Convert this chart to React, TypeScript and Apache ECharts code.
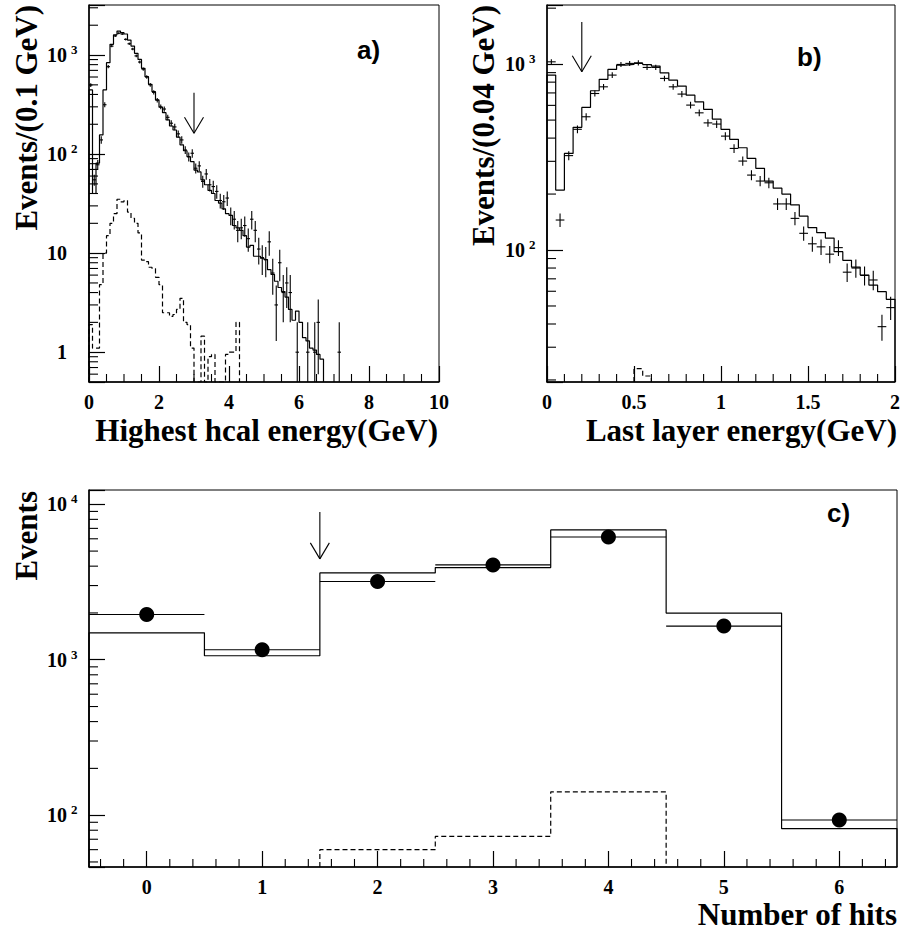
import React, { useEffect, useRef } from 'react';
import * as echarts from 'echarts';

const SERIF = '"Liberation Serif", "Times New Roman", serif';
const SANS = '"Liberation Sans", Arial, sans-serif';

// ---------- Panel a : Highest hcal energy ----------
const A_X = [0, 10];
const A_Y = [0.5, 3200];
const A_BIN = 0.1;
const mcA = [444, 40, 81, 156, 444, 837, 1282, 1600, 1746, 1683,
  1631, 1417, 1233, 1040, 904, 734, 605, 506, 427, 352,
  297, 262, 221, 192, 175, 148, 124, 108, 94, 84,
  69, 66, 55, 49, 43, 40, 34, 32, 28, 25,
  24, 19, 18, 17, 15, 11.5, 12, 9.3, 9.3, 8.9,
  8.6, 6.8, 6.1, 5.2, 4.5, 4.1, 3.6, 2.7, 2.1, 2.6,
  2.0, 1.4, 1.3, 1.1, 1.05, 0.95, 0.85];
const dataA = [498, 55, 78, 139, 315, 763, 1230, 1560, 1660, 1630,
  1440, 1300, 1150, 980, 850, 720, 600, 500, 420, 350,
  300, 285, 235, 205, 188, 160, 139, 110, 94, 102,
  72, 76, 53, 63, 49, 47, 42, 34, 33, 36,
  24, 22, 17, 18, 19, 14, 22, 17, 11, 9,
  8.6, 13, 6.3, 3, 8, 4, 5, 4, 0, 1,
  0, 0, 1, 0, 1, 2, 0, 0, 0, 0,
  0, 1];
const errA = [22, 7, 9, 12, 18, 28, 35, 39, 41, 40,
  38, 36, 34, 31, 29, 27, 24, 22, 20, 19,
  17, 17, 15, 14, 14, 13, 12, 10, 10, 10,
  8.5, 8.7, 7.3, 7.9, 7, 6.9, 6.5, 5.8, 5.7, 6,
  4.9, 4.7, 4.1, 4.2, 4.4, 3.7, 4.7, 4.1, 3.3, 3,
  2.9, 3.6, 2.5, 1.7, 2.8, 2, 2.2, 2, 0, 1,
  0, 0, 1, 0, 1, 1.4, 0, 0, 0, 0,
  0, 1];
const bgA = [1.9, 1.1, 1.1, 4.8, 10, 15, 20, 25, 35, 33,
  34, 26, 22.5, 20, 16, 8.5, 8.2, 7.2, 7, 5.7,
  4.8, 2.5, 2.5, 2.3, 2.4, 2.7, 3.5, 2.0, 1.9, 1.1,
  0, 0, 1.45, 0, 0.9, 0.95, 0, 0, 0, 0.95,
  1.0, 1.0, 2.0];
const arrowA = [3.0, 162, 417];

// ---------- Panel b : Last layer energy ----------
const B_X = [0, 2];
const B_Y = [19.5, 2080];
const B_BIN = 0.05;
const mcB = [873, 210, 331, 457, 585, 719, 828, 936, 988, 996,
  1009, 994, 976, 898, 820, 762, 681, 627, 571, 506,
  446, 394, 355, 311, 275, 235, 215, 200, 175, 152,
  132, 124, 116, 98, 88, 81, 73.4, 64.8, 59.7, 54.3];
const dataB = [1029, 145, 322, 446, 521, 695, 755, 873, 996, 1009,
  1016, 960, 960, 838, 755, 690, 602, 547, 483, 476,
  410, 352, 301, 253, 235, 230, 177, 177, 148, 123,
  108, 104, 95, 103, 76, 80, 73, 69, 38.7, 49];
const errB = [32, 12, 18, 21, 23, 26, 27, 30, 32, 32,
  32, 31, 31, 29, 27, 26, 25, 23, 22, 22,
  20, 19, 17, 16, 15, 15, 13, 13, 12, 11,
  10, 10, 10, 10, 8.7, 9, 8.5, 8.3, 6.2, 7];
const bgBStart = 0.5;
const bgB = [23, 21];
const arrowB = [0.2, 910, 1687];

// ---------- Panel c : Number of hits ----------
const C_X = [-0.5, 6.5];
const C_Y = [46.4, 12360];
const hitsC = [0, 1, 2, 3, 4, 5, 6];
const dataC = [1954, 1159, 3184, 4074, 6166, 1646, 93];
const mcC = [1490, 1061, 3620, 3915, 6840, 1995, 82];
const bgCStart = 1.5;
const bgC = [60, 73, 141];
const arrowC = [1.5, 4455, 8915];

const GRIDS = [
  { left: 89, top: 5, width: 350, height: 377 },
  { left: 547, top: 5, width: 350, height: 377 },
  { left: 89, top: 490, width: 808, height: 377 },
];

function histPoints(start: number, width: number, vals: number[], yMin: number) {
  const pts: number[][] = [[start, yMin]];
  vals.forEach((v, i) => pts.push([start + i * width, Math.max(v, yMin)]));
  const end = start + vals.length * width;
  pts.push([end, Math.max(vals[vals.length - 1], yMin)]);
  pts.push([end, yMin]);
  return pts;
}

function logMinors(min: number, max: number) {
  const out: number[] = [];
  for (let e = Math.floor(Math.log10(min)); e <= Math.ceil(Math.log10(max)); e++) {
    for (let m = 2; m <= 9; m++) {
      const v = m * Math.pow(10, e);
      if (v > min * 1.0001 && v < max * 0.9999) out.push(v);
    }
  }
  return out;
}

function linMinors(min: number, max: number, step: number, major: number) {
  const out: number[] = [];
  const n0 = Math.ceil(min / step - 1e-9);
  const n1 = Math.floor(max / step + 1e-9);
  for (let n = n0; n <= n1; n++) {
    const v = n * step;
    const r = v / major;
    if (Math.abs(r - Math.round(r)) < 1e-6) continue;
    if (v <= min + 1e-9 || v >= max - 1e-9) continue;
    out.push(v);
  }
  return out;
}

const powLabel = (v: number) => {
  const e = Math.log10(v);
  const n = Math.round(e);
  if (Math.abs(e - n) > 1e-6) return '';
  if (n === 0) return '{p|1}';
  if (n === 1) return '{b|10}';
  return `{b|10}{s|${n}}`;
};

const LINE = { stroke: '#000', lineWidth: 1 };

function lineEl(a: number[], b: number[], w = 1) {
  return { type: 'line', shape: { x1: a[0], y1: a[1], x2: b[0], y2: b[1] }, style: { ...LINE, lineWidth: w } };
}

function xAxisCfg(gridIndex: number, range: number[], extra: any) {
  return {
    type: 'value', gridIndex, min: range[0], max: range[1], ...extra.axis,
    axisLine: { show: true, onZero: false, lineStyle: { color: '#000', width: 1.5 } },
    axisTick: { show: true, inside: true, length: 16, lineStyle: { color: '#000', width: 1.2 }, ...(extra.tick || {}) },
    axisLabel: {
      color: '#000', fontSize: 20, fontWeight: 'bold', fontFamily: SERIF, margin: 12, lineHeight: 16,
      ...(extra.label || {}),
    },
    splitLine: { show: false },
    minorTick: { show: false },
  };
}

function yAxisCfg(gridIndex: number, range: number[]) {
  const base = { color: '#000', fontWeight: 'bold', fontFamily: SERIF };
  return {
    type: 'log', logBase: 10, gridIndex, min: range[0], max: range[1],
    axisLine: { show: true, onZero: false, lineStyle: { color: '#000', width: 1.5 } },
    axisTick: { show: true, inside: true, length: 16, lineStyle: { color: '#000', width: 1.2 } },
    axisLabel: {
      formatter: powLabel, align: 'left', margin: 42,
      rich: {
        b: { ...base, fontSize: 20, lineHeight: 24 },
        p: { ...base, fontSize: 20, lineHeight: 24, padding: [0, 0, 0, 10] },
        s: { ...base, fontSize: 13, lineHeight: 12, verticalAlign: 'top', padding: [0, 0, 0, 4] },
      },
    },
    splitLine: { show: false },
    minorTick: { show: false },
  };
}

function crossSeries(gi: number, start: number, width: number, vals: number[], errs: number[], yr: number[]) {
  const data = vals
    .map((v, i) => [start + (i + 0.5) * width, v, errs[i], width / 2])
    .filter((d) => d[1] > 0);
  return {
    type: 'custom', xAxisIndex: gi, yAxisIndex: gi, silent: true, z: 4,
    encode: { x: 0, y: 1 }, data,
    renderItem: (_p: any, api: any) => {
      const x = api.value(0), y = api.value(1), e = api.value(2), hw = api.value(3);
      const l = api.coord([x - hw, y]), r = api.coord([x + hw, y]);
      const t = api.coord([x, Math.min(y + e, yr[1])]);
      const b = api.coord([x, Math.max(y - e, yr[0])]);
      return { type: 'group', children: [lineEl(l, r, 1.1), lineEl(t, b, 1.1)] };
    },
  };
}

function histSeries(gi: number, start: number, width: number, vals: number[], yMin: number, dashed: boolean) {
  return {
    type: 'line', xAxisIndex: gi, yAxisIndex: gi, step: 'end', symbol: 'none', silent: true, z: 3,
    data: histPoints(start, width, vals, yMin),
    lineStyle: { color: '#000', width: 1.2, type: dashed ? [5, 3] : 'solid' },
  };
}

function arrowSeries(gi: number, arrow: number[]) {
  return {
    type: 'custom', xAxisIndex: gi, yAxisIndex: gi, silent: true, z: 5,
    encode: { x: 0, y: 1 }, data: [arrow],
    renderItem: (_p: any, api: any) => {
      const tip = api.coord([api.value(0), api.value(1)]);
      const tail = api.coord([api.value(0), api.value(2)]);
      return {
        type: 'group', children: [
          lineEl(tail, tip, 1.1),
          lineEl([tip[0] - 9.5, tip[1] - 16], tip, 1.1),
          lineEl([tip[0] + 9.5, tip[1] - 16], tip, 1.1),
        ],
      };
    },
  };
}

function yMinorSeries(gi: number, xr: number[], yr: number[]) {
  return {
    type: 'custom', xAxisIndex: gi, yAxisIndex: gi, silent: true, z: 6,
    encode: { x: 0, y: 1 },
    data: logMinors(yr[0], yr[1]).map((v) => [xr[0], v]),
    renderItem: (_p: any, api: any) => {
      const p = api.coord([api.value(0), api.value(1)]);
      return lineEl(p, [p[0] + 9, p[1]], 1.1);
    },
  };
}

function xMinorSeries(gi: number, xr: number[], yr: number[], step: number, major: number) {
  return {
    type: 'custom', xAxisIndex: gi, yAxisIndex: gi, silent: true, z: 6,
    encode: { x: 0, y: 1 },
    data: linMinors(xr[0], xr[1], step, major).map((v) => [v, yr[0]]),
    renderItem: (_p: any, api: any) => {
      const p = api.coord([api.value(0), api.value(1)]);
      return lineEl(p, [p[0], p[1] - 8], 1.1);
    },
  };
}

function titleText(text: string, x: number, y: number, align: string, rotate = false) {
  return {
    type: 'text', x, y, rotation: rotate ? Math.PI / 2 : 0, silent: true,
    style: {
      text, fill: '#000', font: `bold 31px ${SERIF}`, lineHeight: 26,
      align, textAlign: align, verticalAlign: 'middle', textVerticalAlign: 'middle',
    },
  };
}

function tagText(text: string, x: number, y: number) {
  return {
    type: 'text', x, y, silent: true,
    style: {
      text, fill: '#000', font: `bold 26px ${SANS}`,
      align: 'left', textAlign: 'left', verticalAlign: 'middle', textVerticalAlign: 'middle',
    },
  };
}

function buildOption() {
  return {
    animation: false,
    backgroundColor: '#fff',
    grid: GRIDS.map((g) => ({ ...g, show: true, borderColor: '#000', borderWidth: 1, backgroundColor: 'transparent' })),
    xAxis: [
      xAxisCfg(0, A_X, { axis: { interval: 2 } }),
      xAxisCfg(1, B_X, { axis: { interval: 0.5 } }),
      xAxisCfg(2, C_X, { tick: { customValues: hitsC }, label: { customValues: hitsC } }),
    ],
    yAxis: [yAxisCfg(0, A_Y), yAxisCfg(1, B_Y), yAxisCfg(2, C_Y)],
    series: [
      // a
      histSeries(0, 0, A_BIN, mcA, A_Y[0], false),
      histSeries(0, 0, A_BIN, bgA, A_Y[0], true),
      crossSeries(0, 0, A_BIN, dataA, errA, A_Y),
      arrowSeries(0, arrowA),
      yMinorSeries(0, A_X, A_Y),
      xMinorSeries(0, A_X, A_Y, 0.5, 2),
      // b
      histSeries(1, 0, B_BIN, mcB, B_Y[0], false),
      histSeries(1, bgBStart, B_BIN, bgB, B_Y[0], true),
      crossSeries(1, 0, B_BIN, dataB, errB, B_Y),
      arrowSeries(1, arrowB),
      yMinorSeries(1, B_X, B_Y),
      xMinorSeries(1, B_X, B_Y, 0.1, 0.5),
      // c
      histSeries(2, -0.5, 1, mcC, C_Y[0], false),
      histSeries(2, bgCStart, 1, bgC, C_Y[0], true),
      crossSeries(2, -0.5, 1, dataC, dataC.map(() => 0), C_Y),
      {
        type: 'scatter', xAxisIndex: 2, yAxisIndex: 2, silent: true, z: 5,
        symbol: 'circle', symbolSize: 15, itemStyle: { color: '#000', opacity: 1 },
        data: hitsC.map((h, i) => [h, dataC[i]]),
      },
      arrowSeries(2, arrowC),
      yMinorSeries(2, C_X, C_Y),
      xMinorSeries(2, C_X, C_Y, 0.2, 1),
    ],
    graphic: [
      titleText('Highest hcal energy(GeV)', 438, 430, 'right'),
      titleText('Last layer energy(GeV)', 897, 430, 'right'),
      titleText('Number of hits', 897, 914, 'right'),
      titleText('Events/(0.1 GeV)', 26, 5, 'right', true),
      titleText('Events/(0.04 GeV)', 483, 5, 'right', true),
      titleText('Events', 26, 491, 'right', true),
      tagText('a)', 357, 50),
      tagText('b)', 797, 57),
      tagText('c)', 827, 513),
    ],
  };
}

export default function App() {
  const ref = useRef<HTMLDivElement>(null);
  useEffect(() => {
    if (!ref.current) return;
    const chart = echarts.init(ref.current, undefined, { renderer: 'svg' });
    chart.setOption(buildOption() as any);
    return () => chart.dispose();
  }, []);
  return (
    <div
      ref={ref}
      style={{ position: 'absolute', left: 0, top: 0, width: 903, height: 933, background: '#fff' }}
    />
  );
}
